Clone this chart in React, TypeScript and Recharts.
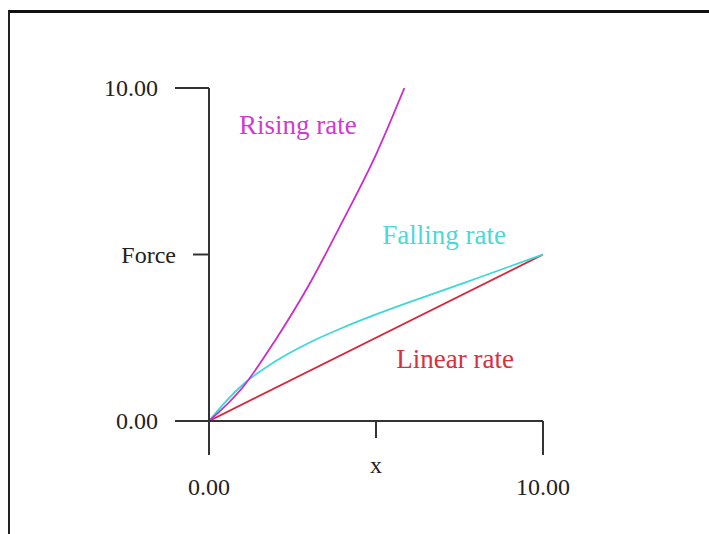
import { LineChart, Line, XAxis, YAxis, ReferenceDot } from 'recharts';

const risingX = [0, 1, 2, 3, 4, 5, 5.85];
const risingY = [0, 1.0, 2.45, 4.1, 6.0, 8.0, 10.0];

const fallingX = [0, 0.5, 1, 2, 3, 4, 5, 6, 7, 8, 9, 10];
const fallingY = [0, 0.58, 1.08, 1.8, 2.35, 2.8, 3.2, 3.57, 3.92, 4.28, 4.64, 5.0];

const linearX = [0, 10];
const linearY = [0, 5];

const xTicks = [0, 5, 10];
const xTickLabels = ['0.00', 'x', '10.00'];
const yTicks = [0, 5, 10];
const yTickLabels = ['0.00', 'Force', '10.00'];

const toPoints = (xs: number[], ys: number[]) => xs.map((x, i) => ({ x, y: ys[i] }));

const rising = toPoints(risingX, risingY);
const falling = toPoints(fallingX, fallingY);
const linear = toPoints(linearX, linearY);

const FONT = '"Liberation Serif", "Times New Roman", serif';
const AXIS = '#333';

function XTick({ x, y, payload }: any) {
  const i = xTicks.indexOf(payload.value);
  const long = i !== 1;
  return (
    <g>
      <line x1={x} x2={x} y1={y} y2={y + (long ? 34 : 17)} stroke={AXIS} strokeWidth={2} />
      <text x={x} y={y + (long ? 74 : 52)} textAnchor="middle" fontFamily={FONT} fontSize={24} fill="#222">
        {xTickLabels[i]}
      </text>
    </g>
  );
}

function YTick({ x, y, payload }: any) {
  const i = yTicks.indexOf(payload.value);
  const len = i === 1 ? 16 : 34;
  return (
    <g>
      <line x1={x - len} x2={x} y1={y} y2={y} stroke={AXIS} strokeWidth={2} />
      <text x={x - len - 17} y={y + 8} textAnchor="end" fontFamily={FONT} fontSize={24} fill="#222">
        {yTickLabels[i]}
      </text>
    </g>
  );
}

const seriesLabel = (text: string, color: string) => (p: any) => (
  <text x={p.cx} y={p.cy} textAnchor="middle" dominantBaseline="central" fontFamily={FONT} fontSize={27} fill={color}>
    {text}
  </text>
);

export default function App() {
  return (
    <div style={{ position: 'absolute', left: 0, top: 0, width: 709, height: 534, background: '#fff', overflow: 'hidden' }}>
      <div style={{ position: 'absolute', left: 8, top: 10, width: 701, height: 530, borderTop: '3px solid #111', borderLeft: '2px solid #222', boxSizing: 'border-box' }} />
      <div style={{ position: 'absolute', left: 0, top: 0 }}>
        <LineChart width={709} height={534} margin={{ top: 88, right: 166, bottom: 53, left: 149 }}>
          <XAxis
            type="number"
            dataKey="x"
            domain={[0, 10]}
            ticks={xTicks}
            height={60}
            tickSize={0}
            tickMargin={0}
            tickLine={false}
            axisLine={{ stroke: AXIS, strokeWidth: 2 }}
            tick={<XTick />}
            allowDataOverflow
          />
          <YAxis
            type="number"
            dataKey="y"
            domain={[0, 10]}
            ticks={yTicks}
            width={60}
            tickSize={0}
            tickMargin={0}
            tickLine={false}
            axisLine={{ stroke: AXIS, strokeWidth: 2 }}
            tick={<YTick />}
            allowDataOverflow
          />
          <Line data={linear} dataKey="y" type="linear" stroke="#d9263c" strokeWidth={1.8} dot={false} isAnimationActive={false} />
          <Line data={falling} dataKey="y" type="monotone" stroke="#3dd8d8" strokeWidth={1.8} dot={false} isAnimationActive={false} />
          <Line data={rising} dataKey="y" type="monotone" stroke="#cc2ccc" strokeWidth={1.8} dot={false} isAnimationActive={false} />
          <ReferenceDot x={2.66} y={8.89} r={0} ifOverflow="visible" shape={seriesLabel('Rising rate', '#d03ad0')} />
          <ReferenceDot x={7.04} y={5.59} r={0} ifOverflow="visible" shape={seriesLabel('Falling rate', '#4cd8d8')} />
          <ReferenceDot x={7.37} y={1.86} r={0} ifOverflow="visible" shape={seriesLabel('Linear rate', '#d8303e')} />
        </LineChart>
      </div>
    </div>
  );
}
